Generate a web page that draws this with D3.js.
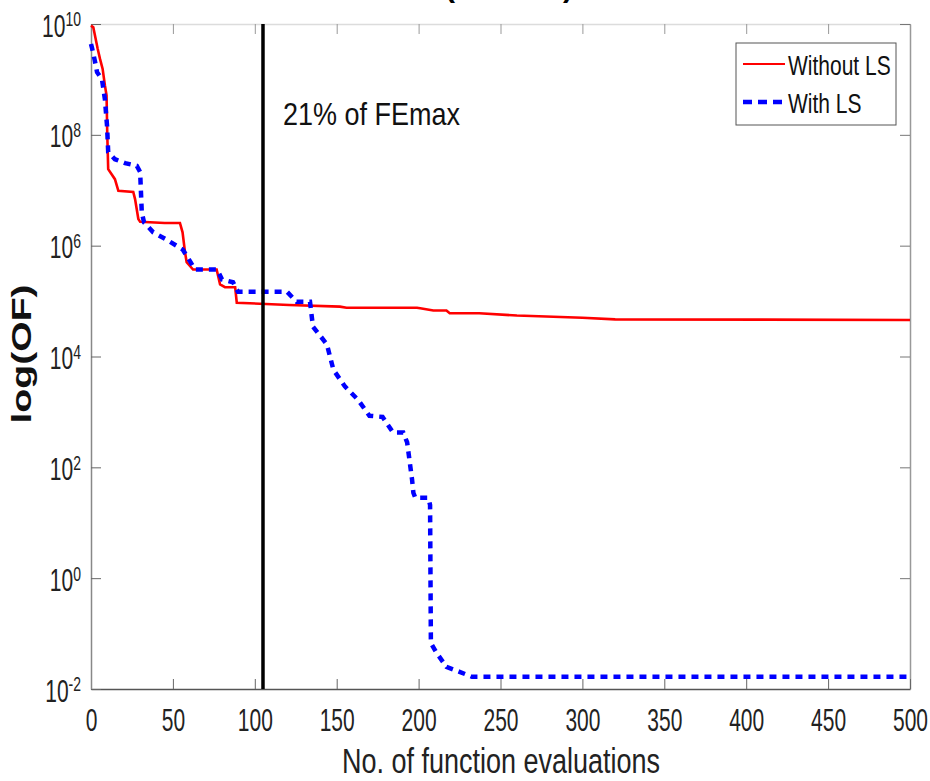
<!DOCTYPE html>
<html>
<head>
<meta charset="utf-8">
<script src="https://cdn.jsdelivr.net/npm/d3@7"></script>
<style>
  body { margin: 0; background: #fff; }
  svg { display: block; font-family: "Liberation Sans", Arial, sans-serif; }
</style>
</head>
<body>
<svg width="930" height="781"></svg>
<script>
/************************** DATA **************************/
// Without LS (red, solid) - evaluations and objective value
var evalsWithout = [0, 1.4, 4.1, 5.5, 7.1, 8.5, 9.5, 9.9, 10.5, 14.6, 16.7, 25.8, 26.9, 28.9, 30, 45, 54.3, 55.9, 57.4, 58.4,
  62.3, 76.7, 78.8, 81.8, 88, 89, 121, 152, 156, 199, 201, 209, 217, 219, 237, 260, 300, 320, 500];
var logOfWithout = [9.97, 9.94, 9.55, 9.37, 9.19, 8.89, 8.71, 8.05, 7.38, 7.2, 6.99, 6.97, 6.84, 6.48, 6.43, 6.41, 6.41, 6.24, 5.88, 5.7,
  5.57, 5.57, 5.3, 5.25, 5.25, 4.97, 4.93, 4.9, 4.88, 4.88, 4.87, 4.83, 4.83, 4.78, 4.78, 4.74, 4.7, 4.67, 4.66];

// With LS (blue, dashed)
var evalsWith = [0, 0.6, 2.4, 3.7, 6.7, 8.5, 9.8, 10.5, 14.6, 20.8, 28, 30, 31, 32.4, 38, 46, 56, 60.4, 63.5, 77,
  80, 86.7, 89.7, 119.6, 125.5, 133.7, 135.5, 144, 148, 155, 163, 170, 178, 184.4, 190.6, 193, 196, 196.8, 198, 206,
  207, 207.5, 211, 217, 225, 232.6, 500];
var logOfWith = [9.64, 9.57, 9.33, 9.13, 9.0, 8.64, 8.16, 7.69, 7.56, 7.49, 7.44, 7.33, 6.6, 6.42, 6.24, 6.11, 5.93, 5.72, 5.57, 5.57,
  5.39, 5.34, 5.17, 5.17, 4.99, 4.99, 4.54, 4.22, 3.76, 3.46, 3.22, 2.93, 2.91, 2.63, 2.63, 2.45, 1.78, 1.54, 1.45, 1.45,
  1.32, -1.17, -1.35, -1.6, -1.69, -1.78, -1.78];

var xTicks = [0, 50, 100, 150, 200, 250, 300, 350, 400, 450, 500];
var yExponents = [-2, 0, 2, 4, 6, 8, 10];
var seriesNames = ["Without LS", "With LS"];
var markerEval = 105; // 21% of FEmax
var markerLabel = "21% of FEmax";
var xLabel = "No. of function evaluations";
var yLabel = "log(OF)";

/************************** LAYOUT **************************/
var L = 91, R = 910, T = 24, B = 689;
var SY = 1.5; // the picture is stretched vertically, so the text is too

var svg = d3.select("svg");

var x = d3.scaleLinear().domain([0, 500]).range([L, R]);
var y = d3.scaleLog().domain([1e-2, 1e10]).range([B, T]);

var toPoints = function(xs, ls) {
  return xs.map(function(v, i) { return { 'x': v, 'y': Math.pow(10, ls[i]) }; });
};

var line = d3.line()
  .x(function(d) { return x(d.x); })
  .y(function(d) { return y(d.y); });

/************************** AXES **************************/
// top border with ticks pointing down
var topAxis = svg.append("g")
  .attr("transform", "translate(0," + T + ")")
  .call(d3.axisTop(x).tickValues(xTicks).tickSize(-10).tickSizeOuter(0).tickFormat(""));
topAxis.select(".domain").attr("stroke", "#dcdcdc").attr("stroke-width", 1.5);
topAxis.selectAll(".tick line").attr("stroke", "#999");

// right border
var rightAxis = svg.append("g")
  .attr("transform", "translate(" + R + ",0)")
  .call(d3.axisRight(y).tickValues(yExponents.map(function(e) { return Math.pow(10, e); }))
    .tickSize(-10).tickSizeOuter(0).tickFormat(""));
rightAxis.select(".domain").attr("stroke", "#999").attr("stroke-width", 1.5);
rightAxis.selectAll(".tick line").attr("stroke", "#777");

// bottom axis
var bottomAxis = svg.append("g")
  .attr("transform", "translate(0," + B + ")")
  .call(d3.axisBottom(x).tickValues(xTicks).tickSize(-10).tickSizeOuter(0));
bottomAxis.select(".domain").attr("stroke", "#555").attr("stroke-width", 1.5);
bottomAxis.selectAll(".tick line").attr("stroke", "#666");
bottomAxis.selectAll(".tick text")
  .attr("y", 0).attr("dy", null)
  .attr("transform", "translate(0,42) scale(1," + SY + ")")
  .attr("font-size", 21)
  .attr("font-family", "Liberation Sans, Arial, sans-serif")
  .attr("fill", "#222");

// left axis, labels as 10 with superscript exponent
var leftAxis = svg.append("g")
  .attr("transform", "translate(" + L + ",0)")
  .call(d3.axisLeft(y).tickValues(yExponents.map(function(e) { return Math.pow(10, e); }))
    .tickSize(-10).tickSizeOuter(0).tickFormat(""));
leftAxis.select(".domain").attr("stroke", "#888").attr("stroke-width", 1.5);
leftAxis.selectAll(".tick line").attr("stroke", "#666");
leftAxis.selectAll(".tick text").remove();
leftAxis.selectAll(".tick").each(function(d) {
  var t = d3.select(this).append("text")
    .attr("transform", "translate(-10,12) scale(1," + SY + ")")
    .attr("text-anchor", "end")
    .attr("font-size", 21)
    .attr("fill", "#222");
  t.append("tspan").text("10");
  t.append("tspan")
    .attr("font-size", 14)
    .attr("dy", -6.7)
    .text(Math.round(Math.log10(d)));
});

/************************** SERIES **************************/
svg.append("path")
  .attr("d", line(toPoints(evalsWithout, logOfWithout)))
  .attr("stroke", "#ff0000")
  .attr("stroke-width", 2.6)
  .attr("fill", "none");

svg.append("path")
  .attr("d", line(toPoints(evalsWith, logOfWith)))
  .attr("stroke", "#0000ff")
  .attr("stroke-width", 4.5)
  .attr("stroke-dasharray", "7,6")
  .attr("fill", "none");

// vertical marker
svg.append("line")
  .attr("x1", x(markerEval)).attr("x2", x(markerEval))
  .attr("y1", T).attr("y2", B)
  .attr("stroke", "#000")
  .attr("stroke-width", 3.5);

svg.append("text")
  .attr("transform", "translate(283,125) scale(1,1.15)")
  .attr("font-size", 27)
  .attr("fill", "#111")
  .text(markerLabel);

/************************** LABELS **************************/
svg.append("text")
  .attr("transform", "translate(501,773) scale(1,1.3)")
  .attr("text-anchor", "middle")
  .attr("font-size", 27)
  .attr("fill", "#222")
  .text(xLabel);

svg.append("text")
  .attr("transform", "translate(31,354) rotate(-90) scale(1.4,1)")
  .attr("text-anchor", "middle")
  .attr("font-size", 28)
  .attr("font-weight", "bold")
  .attr("fill", "#111")
  .text(yLabel);

// title is cut off at the top edge, only the bottom of the brackets shows
svg.append("text").attr("x", 445).attr("y", -3).attr("font-size", 30).attr("font-weight", "bold").text("(");
svg.append("text").attr("x", 563).attr("y", -3).attr("font-size", 30).attr("font-weight", "bold").text(")");

/************************** LEGEND **************************/
var legend = svg.append("g");
legend.append("rect")
  .attr("x", 736).attr("y", 43)
  .attr("width", 160).attr("height", 82)
  .attr("fill", "#fff")
  .attr("stroke", "#555")
  .attr("stroke-width", 1);

var legendRows = [
  { 'name': seriesNames[0], 'color': "#ff0000", 'width': 2, 'dash': null, 'ly': 64, 'ty': 75 },
  { 'name': seriesNames[1], 'color': "#0000ff", 'width': 4.5, 'dash': "9,6", 'ly': 102, 'ty': 113 }
];
legendRows.forEach(function(r) {
  legend.append("line")
    .attr("x1", 743).attr("x2", 785)
    .attr("y1", r.ly).attr("y2", r.ly)
    .attr("stroke", r.color)
    .attr("stroke-width", r.width)
    .attr("stroke-dasharray", r.dash);
  legend.append("text")
    .attr("transform", "translate(788," + r.ty + ") scale(1,1.3)")
    .attr("font-size", 21)
    .attr("fill", "#111")
    .text(r.name);
});
</script>
</body>
</html>
